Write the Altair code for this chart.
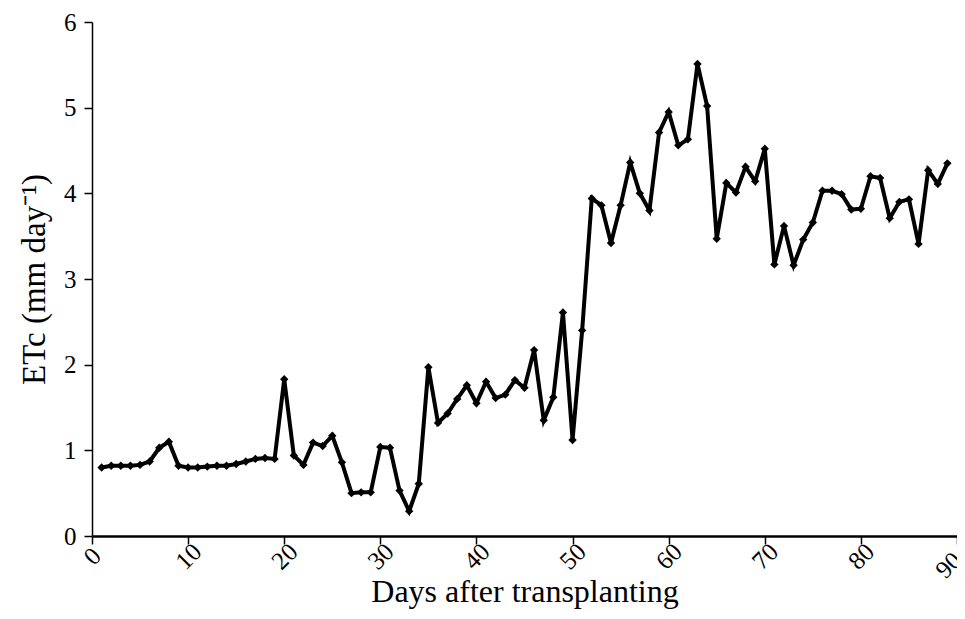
import altair as alt
import pandas as pd

days = list(range(1, 90))
etc = [
    0.80, 0.82, 0.82, 0.82, 0.83, 0.87, 1.03, 1.10, 0.82, 0.80,
    0.80, 0.81, 0.82, 0.82, 0.84, 0.87, 0.90, 0.91, 0.90, 1.83,
    0.94, 0.83, 1.09, 1.05, 1.17, 0.86, 0.50, 0.51, 0.51, 1.04,
    1.03, 0.53, 0.29, 0.61, 1.97, 1.32, 1.43, 1.60, 1.76, 1.55,
    1.80, 1.61, 1.65, 1.82, 1.73, 2.17, 1.35, 1.62, 2.61, 1.12,
    2.40, 3.94, 3.86, 3.42, 3.86, 4.36, 4.00, 3.80, 4.71, 4.95,
    4.56, 4.63, 5.51, 5.02, 3.47, 4.12, 4.01, 4.31, 4.14, 4.52,
    3.17, 3.62, 3.16, 3.46, 3.66, 4.03, 4.03, 3.99, 3.81, 3.82,
    4.20, 4.18, 3.71, 3.90, 3.93, 3.41, 4.27, 4.11, 4.35,
]
x_ticks = [0, 10, 20, 30, 40, 50, 60, 70, 80, 90]
y_ticks = [0, 1, 2, 3, 4, 5, 6]

df = pd.DataFrame({"day": days, "etc": etc})

font = "Liberation Serif"

base = alt.Chart(df).encode(
    x=alt.X("day:Q",
            scale=alt.Scale(domain=[0, 90], nice=False, zero=False),
            axis=alt.Axis(values=x_ticks, title="Days after transplanting",
                          labelAngle=-45,
                          labelAlign=alt.expr("datum.value == 90 ? 'right' : 'center'"),
                          labelBaseline="middle",
                          labelFontSize=25, titleFontSize=32, titlePadding=-6,
                          tickSize=8, labelPadding=12, grid=False,
                          labelFont=font, titleFont=font, titleFontWeight="normal",
                          domainColor="black", tickColor="black", labelColor="black",
                          titleColor="black", domainWidth=2.5, tickWidth=1.5)),
    y=alt.Y("etc:Q",
            scale=alt.Scale(domain=[0, 6], nice=False),
            axis=alt.Axis(values=y_ticks, title="ETc (mm day\u207b\u00b9)",
                          labelFontSize=25, titleFontSize=33, titlePadding=12,
                          tickSize=8, labelPadding=8, grid=False,
                          labelFont=font, titleFont=font, titleFontWeight="normal",
                          domainColor="black", tickColor="black", labelColor="black",
                          titleColor="black", domainWidth=1.5, tickWidth=1.5)),
)

line = base.mark_line(color="black", strokeWidth=4)
pts = base.mark_point(shape="diamond", filled=True, color="black", size=70, opacity=1)

chart = (line + pts).properties(
    width=865, height=514,
    autosize=alt.AutoSizeParams(type="none"),
    padding={"left": 84, "top": 14, "right": 0, "bottom": 75},
).configure(background="white", view=alt.ViewConfig(stroke=None))

chart.save("out.html", embed_options={"renderer": "svg", "actions": False})
